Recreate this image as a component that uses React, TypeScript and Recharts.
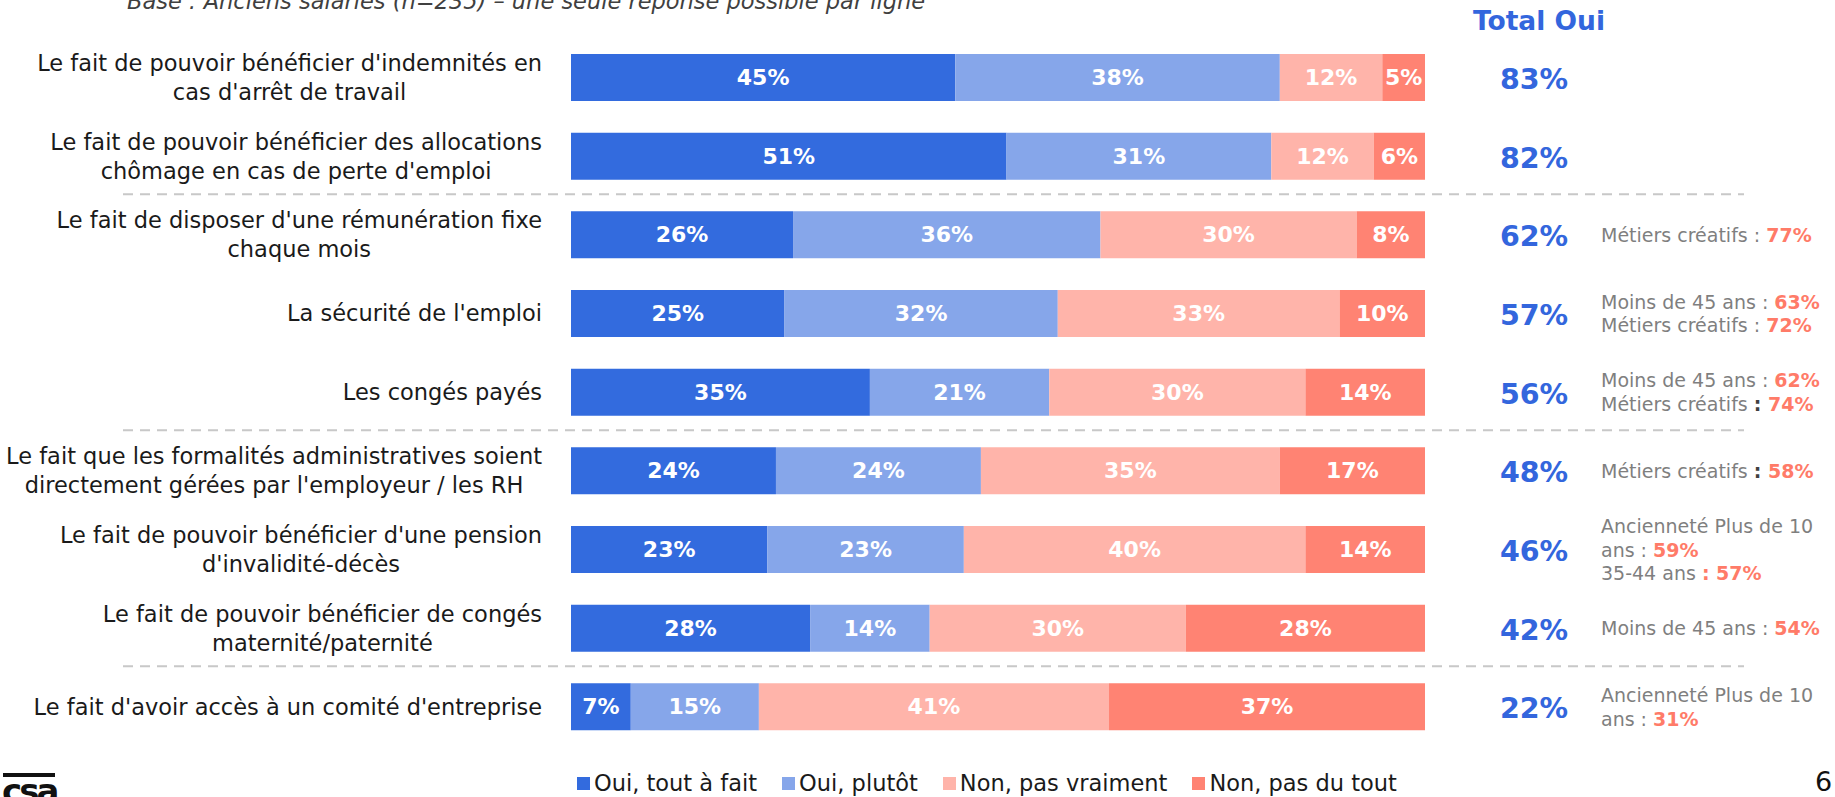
import React from "react";
import { BarChart, Bar, XAxis, YAxis, LabelList, Legend } from "recharts";

const categories = [
  "Le fait de pouvoir bénéficier d'indemnités en|cas d'arrêt de travail",
  "Le fait de pouvoir bénéficier des allocations|chômage en cas de perte d'emploi",
  "Le fait de disposer d'une rémunération fixe|chaque mois",
  "La sécurité de l'emploi",
  "Les congés payés",
  "Le fait que les formalités administratives soient|directement gérées par l'employeur / les RH",
  "Le fait de pouvoir bénéficier d'une pension|d'invalidité-décès",
  "Le fait de pouvoir bénéficier de congés|maternité/paternité",
  "Le fait d'avoir accès à un comité d'entreprise",
];

const ouiToutAFait = [45, 51, 26, 25, 35, 24, 23, 28, 7];
const ouiPlutot = [38, 31, 36, 32, 21, 24, 23, 14, 15];
const nonPasVraiment = [12, 12, 30, 33, 30, 35, 40, 30, 41];
const nonPasDuTout = [5, 6, 8, 10, 14, 17, 14, 28, 37];
const totalOui = [83, 82, 62, 57, 56, 48, 46, 42, 22];

// segments: [gray text, bold dark text, coral value]
type Seg = [string, string, string];
const annotations: Seg[][] = [
  [],
  [],
  [["Métiers créatifs : ", "", "77%"]],
  [["Moins de 45 ans : ", "", "63%"], ["Métiers créatifs : ", "", "72%"]],
  [["Moins de 45 ans : ", "", "62%"], ["Métiers créatifs ", ": ", "74%"]],
  [["Métiers créatifs ", ": ", "58%"]],
  [["Ancienneté Plus de 10", "", ""], ["ans : ", "", "59%"], ["35-44 ans ", "", ": 57%"]],
  [["Moins de 45 ans : ", "", "54%"]],
  [["Ancienneté Plus de 10", "", ""], ["ans : ", "", "31%"]],
];

const separatorsBefore = [2, 5, 8];

const seriesNames = ["Oui, tout à fait", "Oui, plutôt", "Non, pas vraiment", "Non, pas du tout"];
const COLORS = ["#336BDE", "#86A6EA", "#FFB4AA", "#FF8373"];
const BLUE = "#3366DD";
const CORAL = "#FF7B68";
const FONT = "'DejaVu Sans', sans-serif";

const data = categories.map((name, i) => ({
  name,
  a: ouiToutAFait[i],
  b: ouiPlutot[i],
  c: nonPasVraiment[i],
  d: nonPasDuTout[i],
}));

let ctx: CanvasRenderingContext2D | null = null;
function measure(text: string, font: string) {
  if (!ctx) ctx = document.createElement("canvas").getContext("2d");
  if (!ctx) return text.length * 12;
  ctx.font = font;
  return ctx.measureText(text).width;
}

const LABEL_SIZE = 22.5;
const LABEL_RIGHT = 542;
const LINE_H = 29;

function CategoryTick(props: any) {
  const { y, payload } = props;
  const lines: string[] = String(payload.value).split("|");
  const w = Math.max(...lines.map((l) => measure(l, `${LABEL_SIZE}px 'DejaVu Sans'`)));
  const cx = LABEL_RIGHT - w / 2;
  return (
    <text textAnchor="middle" fontFamily={FONT} fontSize={LABEL_SIZE} fill="#1a1a1a">
      {lines.map((l, i) => (
        <tspan key={i} x={cx} y={y + (i - (lines.length - 1) / 2) * LINE_H} dominantBaseline="central">
          {l}
        </tspan>
      ))}
    </text>
  );
}

function InsideLabel(props: any) {
  const { x, y, width, height, value } = props;
  return (
    <text
      x={x + width / 2}
      y={y + height / 2}
      textAnchor="middle"
      dominantBaseline="central"
      fill="#fff"
      fontFamily={FONT}
      fontWeight="bold"
      fontSize={22}
    >
      {value}%
    </text>
  );
}

function RowExtras(props: any) {
  const { x, y, width, height, index } = props;
  const right = x + width;
  const cy = y + height / 2;
  const notes = annotations[index] || [];
  const noteH = 23.5;
  return (
    <g>
      {separatorsBefore.includes(index) && (
        <line x1={123} x2={1744} y1={y - 17} y2={y - 17} stroke="#C8C8C8" strokeWidth={2} strokeDasharray="10 7" />
      )}
      <text
        x={right + 109}
        y={cy + 2}
        textAnchor="middle"
        dominantBaseline="central"
        fill={BLUE}
        fontFamily={FONT}
        fontWeight="bold"
        fontSize={28.5}
      >
        {totalOui[index]}%
      </text>
      {notes.map((seg, i) => (
        <text
          key={i}
          x={right + 176}
          y={cy + (i - (notes.length - 1) / 2) * noteH}
          dominantBaseline="central"
          fontFamily={FONT}
          fontSize={19}
        >
          <tspan fill="#7F7F7F">{seg[0]}</tspan>
          {seg[1] && <tspan fill="#404040" fontWeight="bold">{seg[1]}</tspan>}
          {seg[2] && <tspan fill={CORAL} fontWeight="bold">{seg[2]}</tspan>}
        </text>
      ))}
    </g>
  );
}

function LegendContent() {
  return (
    <div style={{ display: "flex", alignItems: "center", fontFamily: FONT, fontSize: 22.5, color: "#1a1a1a", gap: 25 }}>
      {seriesNames.map((n, i) => (
        <div key={n} style={{ display: "flex", alignItems: "center" }}>
          <span style={{ width: 13, height: 13, background: COLORS[i], display: "inline-block", marginRight: 4 }} />
          <span>{n}</span>
        </div>
      ))}
    </div>
  );
}

export default function App() {
  const keys = ["a", "b", "c", "d"];
  return (
    <div style={{ position: "absolute", left: 0, top: 0, width: 1835, height: 797, background: "#fff", overflow: "hidden" }}>
      <div
        style={{
          position: "absolute",
          left: 127,
          top: -12,
          fontFamily: FONT,
          fontStyle: "italic",
          fontSize: 22.5,
          color: "#404040",
          whiteSpace: "nowrap",
        }}
      >
        Base : Anciens salariés (n=235) – une seule réponse possible par ligne
      </div>
      <div
        style={{
          position: "absolute",
          left: 1472,
          top: 5,
          width: 134,
          textAlign: "center",
          fontFamily: FONT,
          fontWeight: "bold",
          fontSize: 26.5,
          color: BLUE,
          whiteSpace: "nowrap",
        }}
      >
        Total Oui
      </div>
      <BarChart
        width={1835}
        height={797}
        data={data}
        layout="vertical"
        margin={{ top: 38, right: 410, bottom: 51, left: 0 }}
        barSize={47}
      >
        <XAxis type="number" domain={[0, 100]} hide />
        <YAxis type="category" dataKey="name" width={571} axisLine={false} tickLine={false} tick={<CategoryTick />} interval={0} />
        <Legend
          layout="horizontal"
          verticalAlign="middle"
          align="center"
          content={<LegendContent />}
          wrapperStyle={{ position: "absolute", left: 577, top: 770, width: "auto", height: 28 }}
        />
        {keys.map((k, i) => (
          <Bar key={k} dataKey={k} name={seriesNames[i]} stackId="s" fill={COLORS[i]} isAnimationActive={false}>
            <LabelList dataKey={k} content={<InsideLabel />} />
            {i === 3 && <LabelList dataKey={k} content={<RowExtras />} />}
          </Bar>
        ))}
      </BarChart>
      <div style={{ position: "absolute", left: 3, top: 773, width: 52, height: 4, background: "#111" }} />
      <div
        style={{
          position: "absolute",
          left: 2,
          top: 771,
          fontFamily: FONT,
          fontWeight: "bold",
          fontSize: 34,
          color: "#111",
          letterSpacing: -3,
        }}
      >
        csa
      </div>
      <div style={{ position: "absolute", left: 1815, top: 766, fontFamily: FONT, fontSize: 27, color: "#111" }}>6</div>
    </div>
  );
}
